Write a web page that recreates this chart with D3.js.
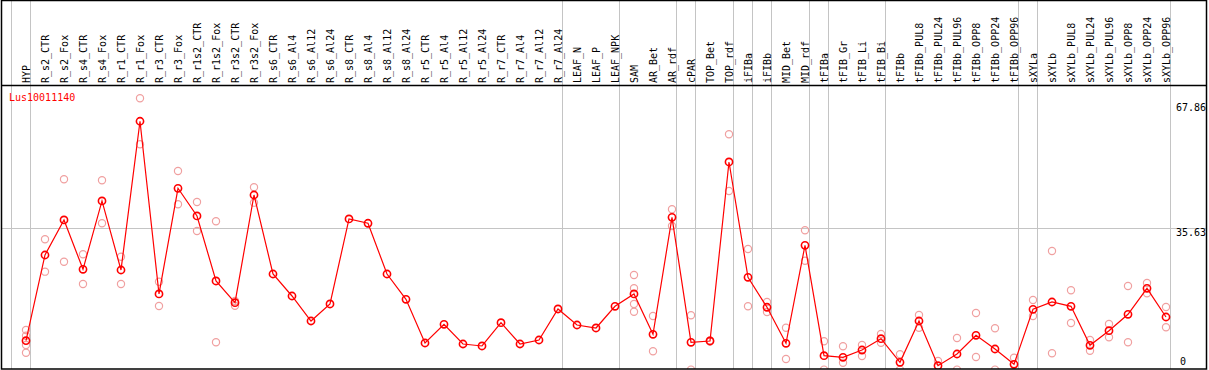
<!DOCTYPE html>
<html>
<head>
<meta charset="utf-8">
<script src="https://cdn.jsdelivr.net/npm/d3@7"></script>
<style>
    body { margin: 0; background: #fff; }
    text { font-family: "DejaVu Sans Mono", monospace; font-size: 10px; }
</style>
</head>
<body>
<div id="chart"></div>
<script>
// ---------------- 資料 ----------------
const geneName = "Lus10011140";

const categories = [
    "HYP", "R_s2_CTR", "R_s2_Fox", "R_s4_CTR", "R_s4_Fox", "R_r1_CTR", "R_r1_Fox",
    "R_r3_CTR", "R_r3_Fox", "R_r1s2_CTR", "R_r1s2_Fox", "R_r3s2_CTR", "R_r3s2_Fox",
    "R_s6_CTR", "R_s6_Al4", "R_s6_Al12", "R_s6_Al24", "R_s8_CTR", "R_s8_Al4",
    "R_s8_Al12", "R_s8_Al24", "R_r5_CTR", "R_r5_Al4", "R_r5_Al12", "R_r5_Al24",
    "R_r7_CTR", "R_r7_Al4", "R_r7_Al12", "R_r7_Al24", "LEAF_N", "LEAF_P", "LEAF_NPK",
    "SAM", "AR_Bet", "AR_rdf", "cPAR", "TOP_Bet", "TOP_rdf", "iFIBa", "iFIBb",
    "MID_Bet", "MID_rdf", "tFIBa", "tFIB_Gr", "tFIB_Li", "tFIB_Bi", "tFIBb",
    "tFIBb_PUL8", "tFIBb_PUL24", "tFIBb_PUL96", "tFIBb_OPP8", "tFIBb_OPP24", "tFIBb_OPP96",
    "sXYLa", "sXYLb", "sXYLb_PUL8", "sXYLb_PUL24", "sXYLb_PUL96", "sXYLb_OPP8",
    "sXYLb_OPP24", "sXYLb_OPP96"
];

// 平均值 (紅線)
const meanValues = [
    6.65, 28.75, 37.78, 25.06, 42.68, 24.88, 63.23,
    18.70, 45.95, 38.81, 22.05, 16.45, 44.22,
    23.85, 18.18, 11.73, 16.12, 38.04, 36.93,
    23.85, 17.33, 6.06, 10.88, 5.80, 5.29,
    11.29, 5.80, 6.83, 14.83, 10.70, 9.93, 15.52,
    18.70, 8.30, 38.47, 6.24, 6.58, 52.73, 23.00, 15.27,
    5.98, 31.25, 2.78, 2.37, 4.25, 7.17, 1.08,
    11.73, 0.21, 3.22, 8.05, 4.51, 0.57,
    14.75, 16.63, 15.52, 5.47, 9.23, 13.46,
    20.16, 12.76
];

// 各重複樣本 (淡紅圈)
const replicateValues = [
    [9.41, 7.94, 5.54, 3.56], [32.80, 24.45], [48.27, 27.02], [28.93, 21.27], [48.01, 36.93], [28.31, 21.27], [69.16, 57.30],
    [21.87, 15.60], [50.41, 41.83], [42.42, 34.94], [37.44, 6.24], [16.89, 15.68], [46.21, 42.24],
    [], [], [], [], [], [],
    [], [], [], [], [], [],
    [], [], [], [], [], [], [],
    [23.59, 20.16, 16.12, 14.13], [13.02, 3.92], [40.54, 36.23], [13.20, -0.8], [6.70, 6.45], [59.88, 45.26], [30.30, 15.52], [16.63, 14.05],
    [10.01, 1.93], [35.12, 27.28], [6.50, -0.8], [5.21, 0.98], [5.54, 2.71], [8.38, 6.14], [3.15, -0.8],
    [13.28, 10.01], [1.42], [7.35, -0.8], [13.80, 2.45], [9.85, -0.8], [2.27],
    [17.15, 13.02], [29.76, 3.40], [19.65, 11.22], [6.83, 4.07], [10.96, 7.53], [20.76, 6.24],
    [21.53, 18.88], [15.34, 10.11]
];

// 右側刻度
const yTickValues = [0, 35.63, 67.86];
const yGridValues = [35.63];

// 分組分隔線 (畫在該樣本之後)
const groupBreaksAfter = [
    "HYP", "R_r7_Al24", "LEAF_NPK", "AR_rdf", "cPAR", "TOP_rdf", "iFIBa", "iFIBb",
    "MID_rdf", "tFIBa", "tFIB_Bi", "tFIBb_OPP96", "sXYLa", "sXYLb_OPP96"
];

// ---------------- 畫布 ----------------
const width = 1209;
const height = 370;
const headerBottom = 85.5;
const plotBottom = 369;

const svg = d3.select("#chart").append("svg")
    .attr("width", width)
    .attr("height", height);

const x = d3.scalePoint()
    .domain(categories)
    .range([26, 1166]);

const y = d3.scaleLinear()
    .domain([0, 67.86])
    .range([366.5, 103.3]);

// 裁切範圍
svg.append("clipPath")
    .attr("id", "plotClip")
    .append("rect")
    .attr("x", 1)
    .attr("y", headerBottom)
    .attr("width", 1206)
    .attr("height", plotBottom - headerBottom);

// 灰色分隔線
const breakX = [x(categories[0]) - x.step()].concat(groupBreaksAfter.map(c => x(c)));
svg.append("g")
    .selectAll("line")
    .data(breakX)
    .join("line")
    .attr("x1", d => Math.floor(d + 4.7) + 0.5)
    .attr("x2", d => Math.floor(d + 4.7) + 0.5)
    .attr("y1", 0)
    .attr("y2", plotBottom)
    .attr("stroke", "#c4c4c4")
    .attr("stroke-width", 1);

// 水平格線
svg.append("g")
    .selectAll("line")
    .data(yGridValues)
    .join("line")
    .attr("x1", 1)
    .attr("x2", 1207)
    .attr("y1", d => Math.round(y(d)) + 0.5)
    .attr("y2", d => Math.round(y(d)) + 0.5)
    .attr("stroke", "#c4c4c4")
    .attr("stroke-width", 1);

// 上方樣本名稱 (直排，由下往上)
svg.append("g")
    .selectAll("text")
    .data(categories)
    .join("text")
    .attr("transform", d => `translate(${x(d) + 4},83) rotate(-90)`)
    .attr("text-anchor", "start")
    .attr("fill", "#000")
    .text(d => d);

// 標題
svg.append("text")
    .attr("x", 9)
    .attr("y", 101)
    .attr("fill", "#ff0000")
    .text(geneName);

// 右側軸
const yAxis = svg.append("g")
    .attr("transform", "translate(1206,0)")
    .call(d3.axisLeft(y)
        .tickValues(yTickValues)
        .tickSize(0)
        .tickPadding(0)
        .tickFormat(d => d === 0 ? "0" : d3.format(".2f")(d)));
yAxis.select(".domain").remove();
yAxis.selectAll("text")
    .attr("font-family", "DejaVu Sans Mono, monospace")
    .attr("font-size", 10)
    .attr("fill", "#000")
    .attr("x", d => d === 0 ? -20 : 0)
    .attr("dy", d => d === 0 ? "-0.18em" : "0.74em");

const plot = svg.append("g").attr("clip-path", "url(#plotClip)");

// 重複樣本
const repPoints = [];
categories.forEach((c, i) => {
    replicateValues[i].forEach(v => repPoints.push({ c, v }));
});
plot.append("g")
    .selectAll("circle")
    .data(repPoints)
    .join("circle")
    .attr("cx", d => x(d.c))
    .attr("cy", d => y(d.v))
    .attr("r", 3.6)
    .attr("fill", "none")
    .attr("stroke", "#f0a0a0")
    .attr("stroke-width", 1.2);

// 平均值折線
const meanPoints = categories.map((c, i) => ({ c, v: meanValues[i] }));
plot.append("path")
    .datum(meanPoints)
    .attr("d", d3.line().x(d => x(d.c)).y(d => y(d.v)))
    .attr("fill", "none")
    .attr("stroke", "#ff0000")
    .attr("stroke-width", 1.2);

plot.append("g")
    .selectAll("circle")
    .data(meanPoints)
    .join("circle")
    .attr("cx", d => x(d.c))
    .attr("cy", d => y(d.v))
    .attr("r", 3.6)
    .attr("fill", "none")
    .attr("stroke", "#ff0000")
    .attr("stroke-width", 1.6);

// 外框與標頭底線
svg.append("line")
    .attr("x1", 1)
    .attr("x2", 1207)
    .attr("y1", headerBottom)
    .attr("y2", headerBottom)
    .attr("stroke", "#000")
    .attr("stroke-width", 1.5);

svg.append("rect")
    .attr("x", 1.5)
    .attr("y", 0.5)
    .attr("width", 1205)
    .attr("height", 368.5)
    .attr("fill", "none")
    .attr("stroke", "#000")
    .attr("stroke-width", 1.5);
</script>
</body>
</html>
